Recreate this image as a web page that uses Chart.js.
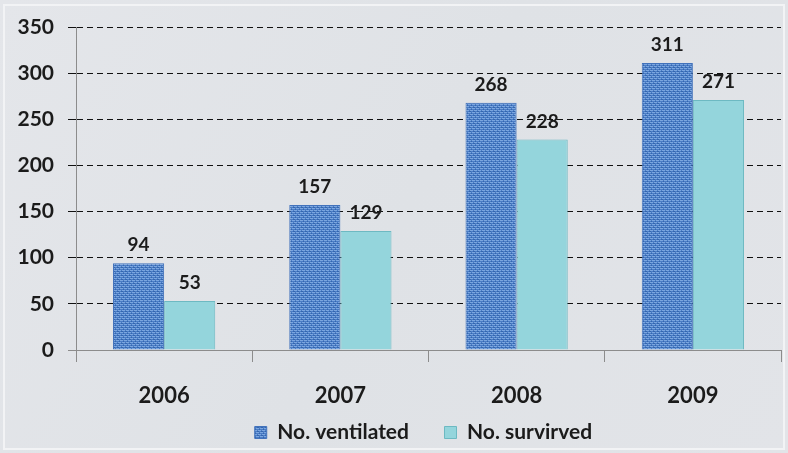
<!DOCTYPE html>
<html><head><meta charset="utf-8">
<script src="https://cdn.jsdelivr.net/npm/chart.js@4/dist/chart.umd.min.js"></script>
<style>html,body{margin:0;padding:0;background:#fff}#wrap{width:788px;height:453px}</style>
</head><body><div id="wrap"><canvas id="c" width="788" height="453"></canvas></div>
<script>
const categories = ['2006', '2007', '2008', '2009'];
const ventilated = [94, 157, 268, 311];
const survived = [53, 129, 228, 271];
const seriesNames = ['No. ventilated', 'No. survirved'];
const yMin = 0, yMax = 350, yStep = 50;

const FONT = 'Lato, "Open Sans", sans-serif';
const TXT = '#1b1b1b';

function makePattern(base, light, dark) {
  const p = document.createElement('canvas');
  p.width = 4; p.height = 4;
  const g = p.getContext('2d');
  g.fillStyle = base; g.fillRect(0, 0, 4, 4);
  g.fillStyle = light; g.fillRect(0, 0, 3, 1); g.fillRect(0, 2, 1, 1); g.fillRect(2, 2, 2, 1);
  g.fillStyle = dark; g.fillRect(3, 1, 1, 1); g.fillRect(1, 3, 2, 1);
  return g.createPattern(p, 'repeat');
}
const canvas = document.getElementById('c');
const bluePat = makePattern('#4a7cc5', '#7ba6df', '#3466ae');

const bgPlugin = {
  id: 'bg',
  beforeDraw(chart) {
    const c = chart.ctx;
    c.save();
    const g = c.createLinearGradient(0, 0, chart.width, chart.height);
    g.addColorStop(0, '#e4e6ea');
    g.addColorStop(0.5, '#dfe2e6');
    g.addColorStop(1, '#e2e4e8');
    c.fillStyle = g;
    c.fillRect(0, 0, chart.width, chart.height);
    c.strokeStyle = '#f2f3f5';
    c.lineWidth = 2;
    c.strokeRect(4, 5, chart.width - 8, chart.height - 9);
    c.restore();
  }
};

const labelPlugin = {
  id: 'valueLabels',
  afterDatasetsDraw(chart) {
    const c = chart.ctx;
    c.save();
    c.font = 'bold 19px ' + FONT;
    c.fillStyle = TXT;
    c.textAlign = 'center';
    c.textBaseline = 'alphabetic';
    chart.data.datasets.forEach((ds, di) => {
      const meta = chart.getDatasetMeta(di);
      meta.data.forEach((el, i) => {
        c.fillText(String(ds.data[i]), el.x, el.y - 12);
      });
    });
    c.restore();
  }
};

new Chart(canvas, {
  type: 'bar',
  data: {
    labels: categories,
    datasets: [
      { label: seriesNames[0], data: ventilated, backgroundColor: bluePat, borderColor: '#4272bb', borderWidth: 1,
        barPercentage: 1, categoryPercentage: 0.58 },
      { label: seriesNames[1], data: survived, backgroundColor: '#94d5dc', borderColor: '#6db9c2', borderWidth: 1,
        barPercentage: 1, categoryPercentage: 0.58 }
    ]
  },
  options: {
    responsive: false,
    animation: false,
    devicePixelRatio: 1,
    layout: { padding: { top: 27, right: 7, left: 0, bottom: 0 } },
    plugins: {
      legend: {
        position: 'bottom',
        fullSize: false,
        labels: {
          boxWidth: 12, boxHeight: 12, padding: 10, color: TXT,
          font: { family: FONT, size: 21, weight: 'bold' },
          generateLabels(chart) {
            const items = Chart.defaults.plugins.legend.labels.generateLabels(chart);
            items.forEach((it, i) => { it.text = it.text + (i < items.length - 1 ? '     ' : '  '); });
            return items;
          }
        }
      },
      tooltip: { enabled: false }
    },
    scales: {
      x: {
        offset: true,
        afterFit(scale) { scale.height = 62; },
        grid: { display: true, drawOnChartArea: false, drawTicks: true, tickLength: 12, color: '#8c8c8c', offset: true },
        border: { color: '#8c8c8c' },
        ticks: { color: TXT, padding: 21, font: { family: FONT, size: 22, weight: 'bold' } }
      },
      y: {
        min: yMin, max: yMax,
        afterFit(scale) { scale.width = 76; },
        ticks: { stepSize: yStep, color: TXT, padding: 14, font: { family: FONT, size: 21, weight: 'bold' } },
        grid: { tickLength: 8, lineWidth: 1, color: (ctx) => ctx.tick && ctx.tick.value === 0 ? '#8c8c8c' : '#111111' },
        border: { color: '#8c8c8c', dash: [6, 4] }
      }
    }
  },
  plugins: [bgPlugin, labelPlugin]
});
</script>
</body></html>
